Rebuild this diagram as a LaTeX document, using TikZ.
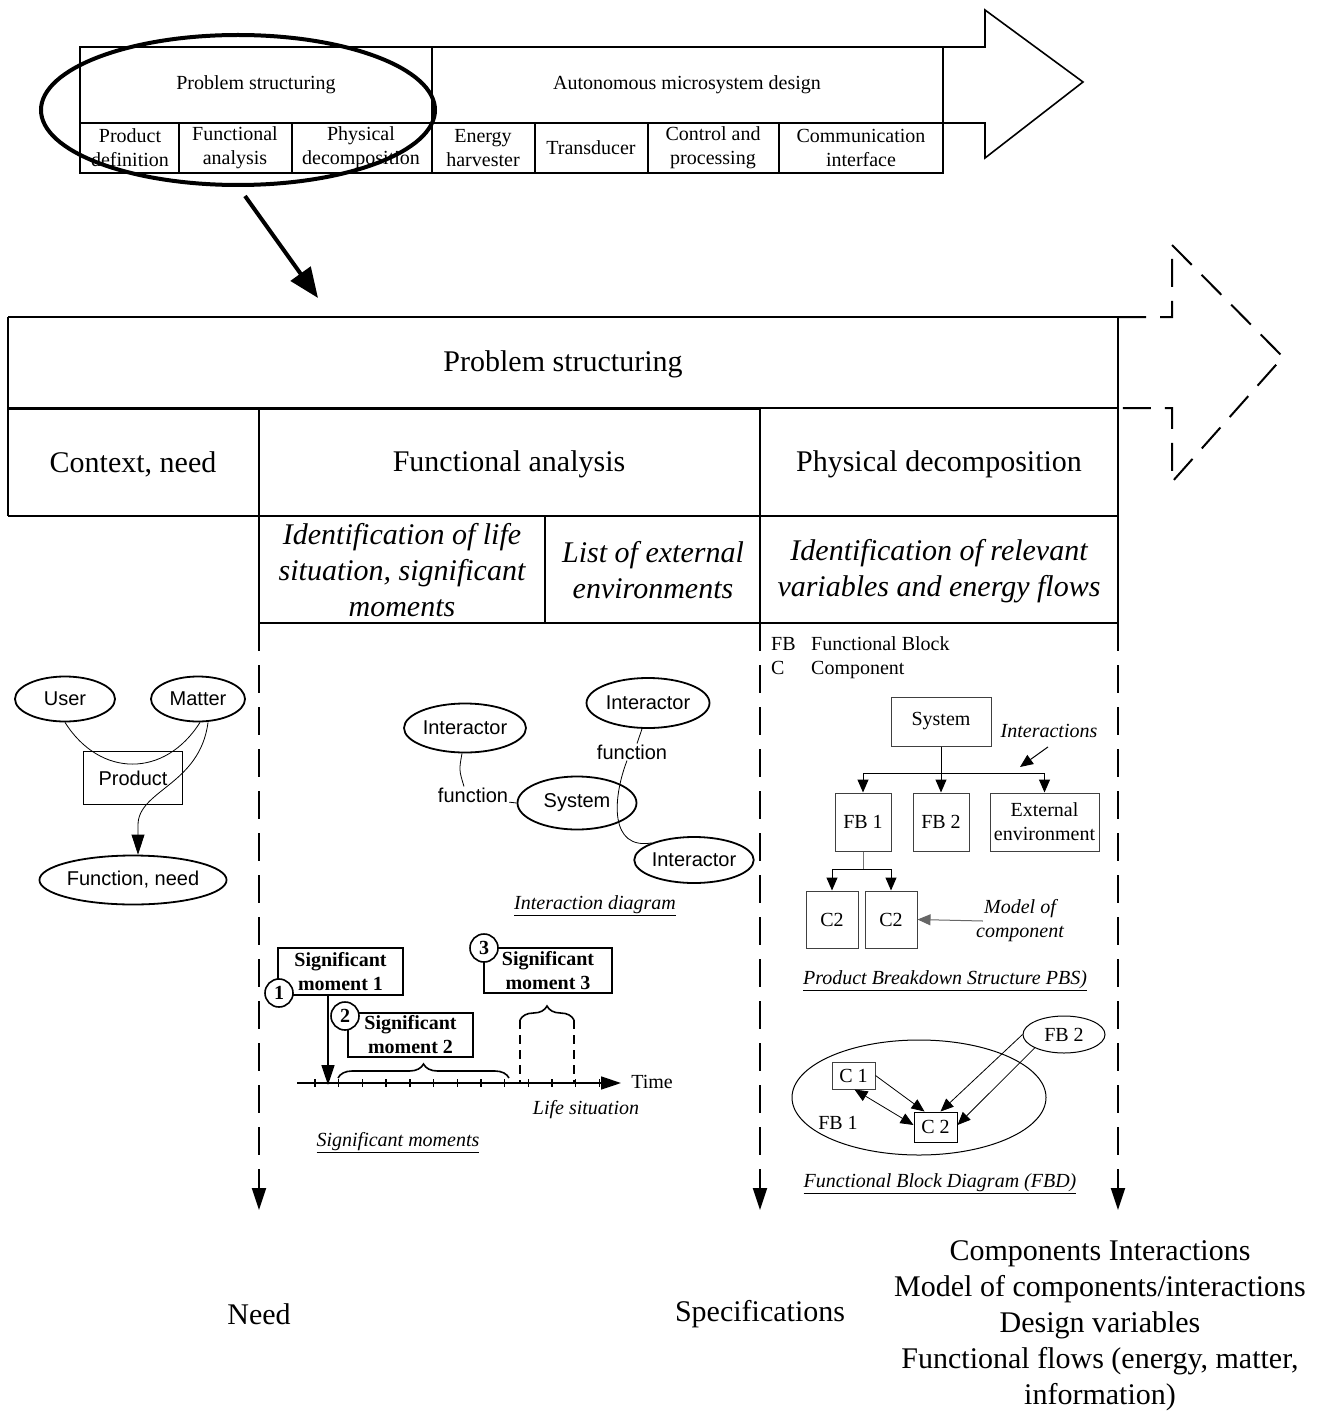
\documentclass[tikz,border=0pt]{standalone}
\usepackage{fontspec}
\setmainfont{Liberation Serif}
\setsansfont{Liberation Sans}
\usetikzlibrary{arrows.meta,shapes.geometric,decorations.pathreplacing,calc}
\newcommand\szS{\fontsize{20}{24}\selectfont}
\newcommand\szL{\fontsize{30}{36}\selectfont}
\begin{document}
\begin{tikzpicture}[x=1pt,y=-1pt,
  frameline/.style={line width=2pt},
  boxline/.style={line width=1.6pt},
  smalltxt/.style={font=\szS, inner sep=1pt},
  smallit/.style={font=\szS\itshape, inner sep=1pt},
  largetxt/.style={font=\szL, inner sep=1pt},
  largeit/.style={font=\szL\itshape, align=center, inner sep=1pt},
  sansell/.style={draw, ellipse, line width=1.8pt, font=\sffamily\szS, inner sep=0pt},
  sanslbl/.style={font=\sffamily\szS, inner sep=1pt},
  grbox/.style={draw=black!75, line width=1pt, font=\szS, align=center, inner sep=0pt},
  smbox/.style={draw, line width=1.6pt, font=\szS\bfseries, align=center, inner sep=0pt},
  numcirc/.style={draw, circle, fill=white, line width=1.6pt, minimum size=28pt, inner sep=0pt, font=\fontsize{20}{20}\selectfont\bfseries},
  dashline/.style={line width=2pt, dash pattern=on 28pt off 14pt},
  bigarrow/.style={-{Triangle[length=22pt,width=14pt]}},
  midarrow/.style={-{Triangle[length=20pt,width=13pt]}},
  smarrow/.style={-{Triangle[length=13pt,width=11pt]}},
]
\useasboundingbox (0,0) rectangle (1325,1412);

% ---------- process overview arrow ----------
\draw[boxline] (80,47) rectangle (943,173);
\draw[boxline] (80,123) -- (943,123);
\draw[boxline] (432,47) -- (432,173);
\foreach \x in {179,292,535,648,779} \draw[boxline] (\x,123) -- (\x,173);
\draw[boxline] (943,47) -- (985,47) -- (985,10) -- (1083,82) -- (985,158) -- (985,123) -- (943,123);

\node[smalltxt] (ovPS) at (256,85) {Problem structuring};
\node[smalltxt] (ovAMD) at (687,85) {Autonomous microsystem design};
\node[smalltxt, align=center] (ovPD) at (130,148) {Product\\definition};
\node[smalltxt, align=center] (ovFA) at (235,148) {Functional\\analysis};
\node[smalltxt, align=center] (ovPhy) at (361,148) {Physical\\decomposition};
\node[smalltxt, align=center] (ovEH) at (483,148) {Energy\\harvester};
\node[smalltxt, align=center] (ovTr) at (591,148) {Transducer};
\node[smalltxt, align=center] (ovCP) at (713,148) {Control and\\processing};
\node[smalltxt, align=center] (ovCI) at (861,148) {Communication\\interface};

% highlight ring and zoom arrow
\draw[line width=4pt] (238,110) ellipse [x radius=197pt, y radius=75pt];
\coordinate (zoomA) at (245,196);
\coordinate (zoomB) at (318,298);
\draw[line width=4pt, -{Triangle[length=30pt,width=24pt]}] (zoomA) -- (zoomB);

% ---------- problem structuring table ----------
\draw[frameline] (8,317) -- (1118,317);
\draw[frameline] (8,317) -- (8,516);
\draw[line width=3pt] (8,408) -- (760,408);
\draw[frameline] (760,408) -- (1118,408);
\draw[frameline] (8,516) -- (1118,516);
\draw[frameline] (259,623) -- (1118,623);
\draw[frameline] (259,408) -- (259,623);
\draw[frameline] (545,516) -- (545,623);
\draw[frameline] (760,408) -- (760,623);
\draw[frameline] (1118,317) -- (1118,623);

% dashed continuation arrow
\draw[dashline] (1118,317) -- (1172,317) -- (1172,245) -- (1283,357) -- (1172,482) -- (1172,408) -- (1118,408);

\node[largetxt] (hdrPS) at (563,364) {Problem structuring};
\node[largetxt] (hdrCtx) at (133,464) {Context, need};
\node[largetxt] (hdrFA) at (509,464) {Functional analysis};
\node[largetxt] (hdrPD) at (939,464) {Physical decomposition};
\node[largeit] (subLife) at (402,570) {Identification of life\\situation, significant\\moments};
\node[largeit] (subEnv) at (653,570) {List of external\\environments};
\node[largeit] (subVar) at (939,571) {Identification of relevant\\variables and energy flows};

% dashed flows to the outputs
\coordinate (flowA0) at (259,623);  \coordinate (flowA1) at (259,1210);
\coordinate (flowB0) at (760,623);  \coordinate (flowB1) at (760,1210);
\coordinate (flowC0) at (1118,623); \coordinate (flowC1) at (1118,1210);
\draw[dashline, bigarrow] (flowA0) -- (flowA1);
\draw[dashline, bigarrow] (flowB0) -- (flowB1);
\draw[dashline, bigarrow] (flowC0) -- (flowC1);

\node[largetxt] (outNeed) at (259,1314) {Need};
\node[largetxt] (outSpec) at (760,1314) {Specifications};
\node[largetxt, align=center] (outComp) at (1100,1326) {Components Interactions\\Model of components/interactions\\Design variables\\Functional flows (energy, matter,\\information)};

% ---------- context, need ----------
\node[sansell, minimum width=100pt, minimum height=45pt] (user) at (65,699) {User};
\node[sansell, minimum width=94pt, minimum height=45pt] (matter) at (198,699) {Matter};
\node[draw, line width=1.8pt, minimum width=99pt, minimum height=53pt, font=\sffamily\szS] (product) at (133,778) {Product};
\node[sansell, minimum width=187pt, minimum height=49pt] (fneed) at (133,880) {Function, need};
\draw[line width=0.8pt] (user.south) .. controls (100,778) and (165,778) .. ($(matter.south)+(2,0)$);
\draw[line width=0.8pt, -{Triangle[length=20pt,width=13pt]}] ($(matter.south)+(10,0)$) .. controls (200,785) and (138,790) .. (138,825) -- ($(fneed.north)+(5,0)$);

% ---------- interaction diagram ----------
\node[sansell, minimum width=122pt, minimum height=49pt] (intA) at (465,728) {Interactor};
\node[sansell, minimum width=123pt, minimum height=50pt] (intB) at (648,703) {Interactor};
\node[sansell, minimum width=119pt, minimum height=53pt] (sysI) at (577,803) {System};
\node[sansell, minimum width=115pt, minimum height=46pt] (intC) at (694,860) {Interactor};
\node[sanslbl] (funA) at (473,795) {function};
\node[sanslbl] (funB) at (632,752) {function};
\draw[line width=0.8pt] ($(intA.south)+(-3,0)$) .. controls (459,770) .. ($(funA.north)+(-9,0)$);
\draw[line width=0.8pt] (funA.base east) -- (sysI.west);
\draw[line width=0.8pt] ($(intB.south)+(-6,0)$) -- ($(funB.north)+(5,0)$);
\draw[line width=0.8pt] ($(funB.south)+(-5,0)$) .. controls (612,800) and (610,850) .. (intC.158);
\node[smallit] (capInt) at (595,906) {\underline{Interaction diagram}};

% ---------- significant moments ----------
\node[smbox, minimum width=125pt, minimum height=47pt] (smA) at (340.5,971.5) {Significant\\moment 1};
\node[smbox, minimum width=125pt, minimum height=44pt] (smB) at (410.5,1035) {Significant\\moment 2};
\node[smbox, minimum width=128pt, minimum height=45pt] (smC) at (548,970.5) {Significant\\moment 3};
\node[numcirc] (numA) at (279,993) {1};
\node[numcirc] (numB) at (345,1016) {2};
\node[numcirc] (numC) at (484,948) {3};

\coordinate (axisL) at (297,1083);
\coordinate (axisR) at (621,1083);
\draw[line width=1.6pt, midarrow] (axisL) -- (axisR);
\foreach \k in {0,...,12} \draw[line width=1.4pt] ({315+23.7*\k},1079) -- ++(0,8);
\coordinate (hitA) at (328,1085);
\draw[line width=1.6pt, midarrow] (smA.south -| hitA) -- (hitA);
\draw[line width=1.6pt, decorate, decoration={brace, amplitude=14pt}] (338,1078) -- (509,1078);
\draw[line width=1.6pt, decorate, decoration={brace, amplitude=14pt}] (520,1020) -- (574,1020);
\draw[line width=1.6pt, dash pattern=on 9pt off 6pt] (520,1020) -- (520,1083);
\draw[line width=1.6pt, dash pattern=on 9pt off 6pt] (574,1020) -- (574,1083);
\node[smalltxt] (timeLbl) at (652,1082) {Time};
\node[smallit] (lifeLbl) at (586,1110) {Life situation};
\node[smallit] (capSM) at (398,1143) {\underline{Significant moments}};

% ---------- product breakdown structure ----------
\node[smalltxt, anchor=base west] (lgFB) at (770,650) {FB};
\node[smalltxt, anchor=base west] (lgFBt) at (810,650) {Functional Block};
\node[smalltxt, anchor=base west] (lgC) at (770,674) {C};
\node[smalltxt, anchor=base west] (lgCt) at (810,674) {Component};

\node[grbox, minimum width=100pt, minimum height=49pt] (pbsSys) at (941,721.5) {System};
\node[grbox, minimum width=56pt, minimum height=58pt] (pbsFB1) at (863,822) {FB 1};
\node[grbox, minimum width=56pt, minimum height=58pt] (pbsFB2) at (941,822) {FB 2};
\node[grbox, minimum width=109pt, minimum height=58pt] (pbsExt) at (1044.5,822) {External\\environment};
\node[grbox, minimum width=52pt, minimum height=57pt] (pbsCa) at (832,919.5) {C2};
\node[grbox, minimum width=52pt, minimum height=57pt] (pbsCb) at (891,919.5) {C2};
\coordinate (busA) at (941,773);
\draw[line width=1pt] (pbsSys.south) -- (busA);
\draw[line width=1pt] (pbsFB1.north |- busA) -- (pbsExt.north |- busA);
\draw[line width=1pt, smarrow] (pbsFB1.north |- busA) -- (pbsFB1.north);
\draw[line width=1pt, smarrow] (busA) -- (pbsFB2.north);
\draw[line width=1pt, smarrow] (pbsExt.north |- busA) -- (pbsExt.north);
\coordinate (busB) at (863,869);
\draw[line width=1pt, black!55] (pbsFB1.south) -- (busB);
\draw[line width=1pt] (pbsCa.north |- busB) -- (pbsCb.north |- busB);
\draw[line width=1pt, smarrow] (pbsCa.north |- busB) -- (pbsCa.north);
\draw[line width=1pt, smarrow] (pbsCb.north |- busB) -- (pbsCb.north);

\node[smallit] (lblInter) at (1049,731) {Interactions};
\coordinate (interTip) at (1020,767);
\draw[line width=1pt, smarrow] ($(lblInter.south)+(-1,8)$) -- (interTip);
\node[smallit, align=center] (lblModel) at (1020,921) {Model of\\component};
\draw[line width=1pt, black!60, smarrow] ($(lblModel.west)+(8,0)$) -- (pbsCb.east);
\node[smallit] (capPBS) at (945,981) {\underline{Product Breakdown Structure PBS)}};

% ---------- functional block diagram ----------
\node[draw, ellipse, line width=1pt, minimum width=254pt, minimum height=115pt, inner sep=0pt] (fbdFB1) at (919,1097.5) {};
\node[draw, ellipse, line width=1pt, minimum width=82pt, minimum height=37pt, inner sep=0pt, font=\szS] (fbdFB2) at (1064,1034.5) {FB 2};
\node[grbox, minimum width=43pt, minimum height=27pt] (fbdC1) at (853.5,1075.5) {C 1};
\node[draw, line width=1pt, minimum width=43pt, minimum height=30pt, inner sep=0pt, font=\szS] (fbdC2) at (935.5,1127) {C 2};
\node[smalltxt] (fbdLbl) at (838,1123) {FB 1};
\draw[line width=0.8pt, smarrow] (fbdC1.east) -- ($(fbdC2.north)+(-11,0)$);
\draw[line width=0.8pt, {Triangle[length=13pt,width=11pt]}-{Triangle[length=13pt,width=11pt]}] ($(fbdC1.south)+(1,0)$) -- ($(fbdC2.west)+(0,-2)$);
\draw[line width=0.8pt, smarrow] (fbdFB2.west) -- ($(fbdC2.north)+(5,0)$);
\draw[line width=0.8pt, smarrow] (fbdFB2.south west) -- ($(fbdC2.east)+(0,-2)$);
\node[smallit] (capFBD) at (940,1184) {\underline{Functional Block Diagram (FBD)}};

\end{tikzpicture}
\end{document}
